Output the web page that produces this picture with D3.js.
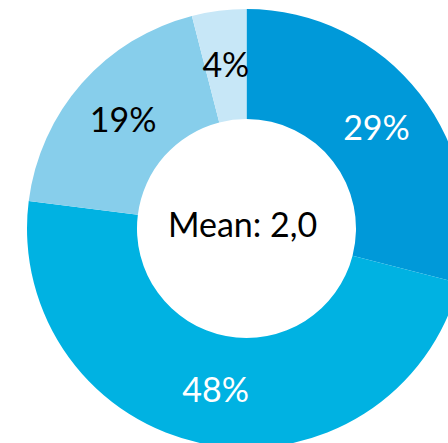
<!DOCTYPE html>
<html>
<head>
<meta charset="utf-8">
<script src="https://cdn.jsdelivr.net/npm/d3@7"></script>
<style>
  body { margin: 0; background: #fff; }
  svg { display: block; }
</style>
</head>
<body>
<svg width="448" height="443"></svg>
<script>
var labels = ["29%", "48%", "19%", "4%"];
var values = [29, 48, 19, 4];
var colors = ["#0099D9", "#00B2E2", "#87CEEB", "#C7E7F7"];
var textColors = ["#fff", "#fff", "#000", "#000"];
var centerText = "Mean: 2,0";

var svg = d3.select("svg"),
    cx = 246.5, cy = 228.5,
    outerR = 219.5, innerR = 109.5,
    g = svg.append("g").attr("transform", "translate(" + cx + "," + cy + ")");

var pie = d3.pie().sort(null).value(function(d) { return d; });
var arc = d3.arc().innerRadius(innerR).outerRadius(outerR);

var arcs = pie(values);

g.selectAll("path")
    .data(arcs)
  .enter().append("path")
    .attr("d", arc)
    .attr("fill", function(d, i) { return colors[i]; });

g.selectAll("text.lbl")
    .data(arcs)
  .enter().append("text")
    .attr("class", "lbl")
    .attr("transform", function(d) { return "translate(" + arc.centroid(d) + ")"; })
    .attr("text-anchor", "middle")
    .attr("dy", "0.35em")
    .attr("fill", function(d, i) { return textColors[i]; })
    .style("font-family", "Lato, sans-serif")
    .style("font-size", "34px")
    .text(function(d, i) { return labels[i]; });

g.append("text")
    .attr("x", -4)
    .attr("y", -3)
    .attr("text-anchor", "middle")
    .attr("dy", "0.35em")
    .style("font-family", "Lato, sans-serif")
    .style("font-size", "34px")
    .text(centerText);
</script>
</body>
</html>
